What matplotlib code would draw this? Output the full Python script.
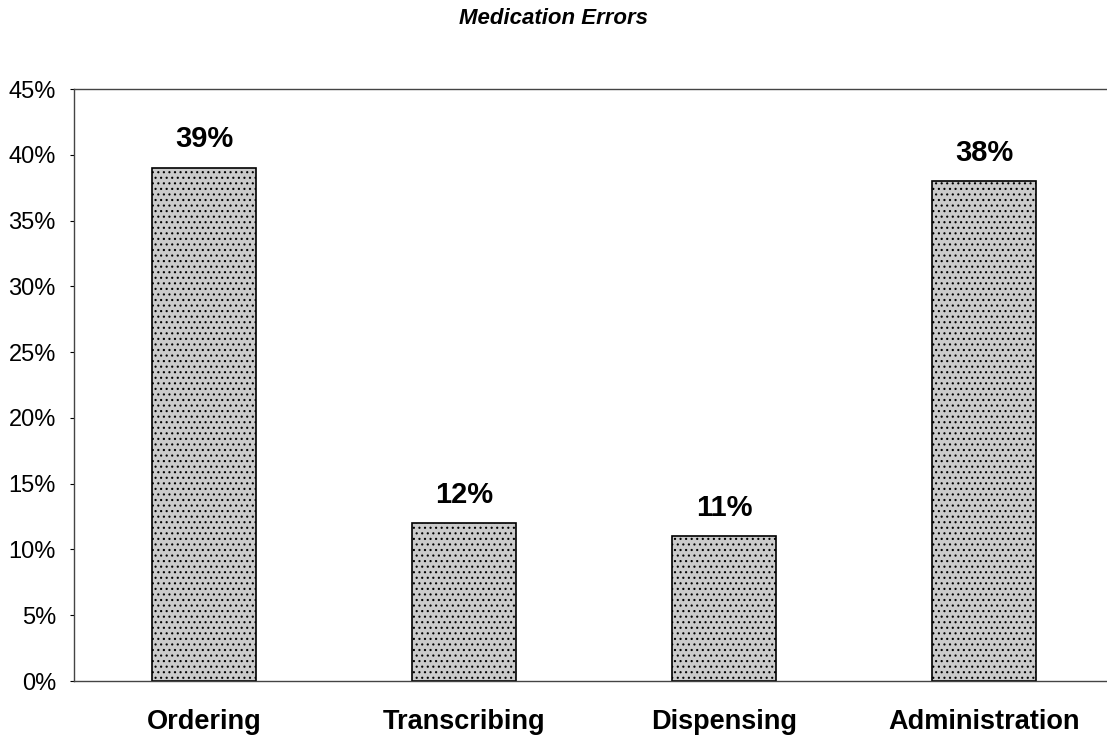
import matplotlib.pyplot as plt
import numpy as np

plt.rcParams['font.family'] = ['Liberation Sans', 'DejaVu Sans']
plt.rcParams['hatch.color'] = '#a5a5a5'
plt.rcParams['hatch.linewidth'] = 0.8

categories = ['Ordering', 'Transcribing', 'Dispensing', 'Administration']
values = [39, 12, 11, 38]
yticks = [0, 5, 10, 15, 20, 25, 30, 35, 40, 45]

fig = plt.figure(figsize=(11.07, 7.37), dpi=100)
ax = fig.add_axes([74 / 1107, 1 - 681 / 737, 1040 / 1107, (681 - 89) / 737])

x = np.arange(len(categories))
ax.bar(x, values, width=0.4, color='#cbcbcb', edgecolor='black', linewidth=1.2,
       hatch='...')

for xi, v in zip(x, values):
    ax.text(xi, v + 1.1, f'{v}%', ha='center', va='bottom', fontsize=21,
            fontweight='bold')

ax.set_xlim(-0.5, 3.5)
ax.set_ylim(0, 45)
ax.set_yticks(yticks)
ax.set_yticklabels([f'{t}%' for t in yticks], fontsize=17)
ax.set_xticks(x)
ax.set_xticklabels(categories, fontsize=19.5, fontweight='bold')
ax.tick_params(axis='x', length=0, pad=20.5)
ax.tick_params(axis='y', length=3, pad=10, direction='out')

for s in ['left', 'bottom', 'top']:
    ax.spines[s].set_color('#444444')
    ax.spines[s].set_linewidth(1.0)
ax.spines['right'].set_visible(False)

fig.text(0.5, 1 - 19 / 737, 'Medication Errors', ha='center', va='center',
         fontsize=16, fontweight='bold', fontstyle='italic')

fig.savefig('out.png', dpi=100)
